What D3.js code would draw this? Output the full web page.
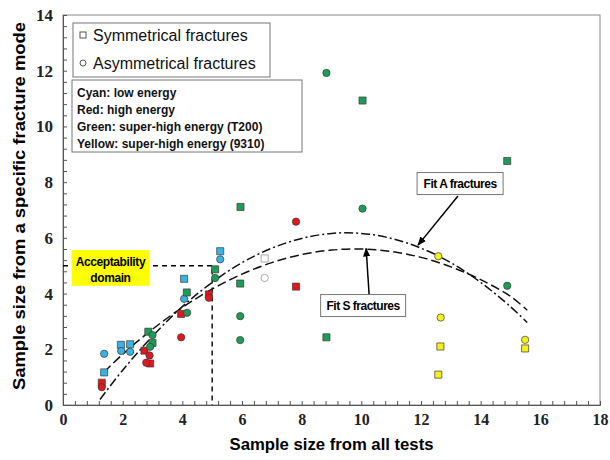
<!DOCTYPE html>
<html>
<head>
<meta charset="utf-8">
<script src="https://cdn.jsdelivr.net/npm/d3@7"></script>
<style>
  body { margin: 0; background: #fff; }
  svg { display: block; }
</style>
</head>
<body>
<script>
// [sample size from all tests, sample size from a fracture mode]
const cyanSym = [[1.38, 1.17], [1.94, 2.16], [2.25, 2.18], [4.06, 4.53], [5.27, 5.52]];
const cyanAsym = [[1.38, 1.84], [1.95, 1.94], [2.25, 1.91], [4.06, 3.81], [5.27, 5.23]];
const redSym = [[1.30, 0.80], [2.73, 1.95], [2.92, 1.49], [3.96, 3.27], [4.89, 3.97], [7.81, 4.25]];
const redAsym = [[1.30, 0.64], [2.90, 1.78], [2.79, 1.52], [3.96, 2.43], [4.89, 3.85], [7.81, 6.58]];
const greenSym = [[2.86, 2.63], [3.00, 2.23], [4.15, 4.04], [5.10, 4.87], [5.94, 4.36], [5.95, 7.11], [8.83, 2.43], [10.04, 10.93], [14.89, 8.76]];
const greenAsym = [[3.00, 2.51], [2.92, 2.09], [4.16, 3.31], [5.10, 4.56], [5.94, 3.19], [5.94, 2.33], [8.83, 11.92], [10.04, 7.05], [14.89, 4.28]];
const yellowSym = [[12.65, 2.10], [12.58, 1.09], [15.49, 2.03]];
const yellowAsym = [[12.58, 5.34], [12.66, 3.14], [15.49, 2.34]];
const whiteSym = [[6.76, 5.26]];
const whiteAsym = [[6.76, 4.56]];

// fit curves
const fitSX = [1.38, 2, 3, 4, 5, 6, 7, 8, 9, 10, 11, 12, 13, 14, 15, 15.56];
const fitSY = [1.18, 1.82, 2.72, 3.5, 4.16, 4.7, 5.11, 5.4, 5.56, 5.6, 5.51, 5.3, 4.96, 4.5, 3.9, 3.4];
const fitAX = [1.24, 2, 3, 4, 5, 6, 7, 8, 9, 10, 11, 12, 13, 14, 15, 15.56];
const fitAY = [0.2, 1.25, 2.47, 3.53, 4.4, 5.11, 5.63, 5.98, 6.16, 6.16, 5.98, 5.63, 5.11, 4.4, 3.53, 2.96];

const xTicks = [0, 2, 4, 6, 8, 10, 12, 14, 16, 18];
const yTicks = [0, 2, 4, 6, 8, 10, 12, 14];
const acceptLimit = 5;

const legendShapes = ["Symmetrical fractures", "Asymmetrical fractures"];
const legendColors = ["Cyan: low energy", "Red: high energy", "Green: super-high energy (T200)", "Yellow: super-high energy (9310)"];

const width = 610, height = 460;
const margin = { top: 15, right: 10, bottom: 55, left: 63 };

const svg = d3.select('body').append('svg')
  .attr('width', width)
  .attr('height', height);

svg.append('defs').append('marker')
  .attr('id', 'arrow')
  .attr('viewBox', '0 0 10 10')
  .attr('refX', 9).attr('refY', 5)
  .attr('markerWidth', 6).attr('markerHeight', 6)
  .attr('orient', 'auto')
  .append('path')
  .attr('d', 'M0,1 L10,5 L0,9 z')
  .attr('fill', '#000');

const x = d3.scaleLinear().domain([0, 18]).range([margin.left, width - margin.right]);
const y = d3.scaleLinear().domain([0, 14]).range([height - margin.bottom, margin.top]);

// frame
svg.append('rect')
  .attr('x', x(0)).attr('y', y(14))
  .attr('width', x(18) - x(0)).attr('height', y(0) - y(14))
  .attr('fill', 'none')
  .attr('stroke', '#888')
  .attr('stroke-width', 1);

// minor ticks (inside)
const minor = d3.range(0, 18.01, 0.4);
const minorY = d3.range(0, 14.01, 0.4);

svg.append('g')
  .attr('transform', `translate(0,${y(0)})`)
  .call(d3.axisBottom(x).tickValues(minor).tickSize(-4).tickFormat(''))
  .call(g => g.select('.domain').attr('stroke', '#555'))
  .selectAll('line').attr('stroke', '#555');

svg.append('g')
  .attr('transform', `translate(${x(0)},0)`)
  .call(d3.axisLeft(y).tickValues(minorY).tickSize(-4).tickFormat(''))
  .call(g => g.select('.domain').attr('stroke', '#555'))
  .selectAll('line').attr('stroke', '#555');

// major axes with labels
svg.append('g')
  .attr('transform', `translate(0,${y(0)})`)
  .call(d3.axisBottom(x).tickValues(xTicks).tickSize(0).tickPadding(9))
  .call(g => g.select('.domain').remove())
  .selectAll('text')
  .style('font-family', '"Liberation Serif", serif')
  .style('font-weight', 'bold')
  .style('font-size', '16px')
  .attr('fill', '#222');

svg.append('g')
  .attr('transform', `translate(${x(0)},0)`)
  .call(d3.axisLeft(y).tickValues(yTicks).tickSize(0).tickPadding(10))
  .call(g => g.select('.domain').remove())
  .selectAll('text')
  .style('font-family', '"Liberation Serif", serif')
  .style('font-weight', 'bold')
  .style('font-size', '17px')
  .attr('fill', '#222');

// axis titles
svg.append('text')
  .attr('x', (x(0) + x(18)) / 2)
  .attr('y', 450)
  .attr('text-anchor', 'middle')
  .attr('textLength', 204)
  .attr('lengthAdjust', 'spacingAndGlyphs')
  .style('font-family', '"Liberation Sans", Arial, sans-serif')
  .style('font-weight', 'bold')
  .style('font-size', '17px')
  .text('Sample size from all tests');

svg.append('text')
  .attr('transform', `translate(25,${(y(0) + y(14)) / 2 - 4}) rotate(-90)`)
  .attr('text-anchor', 'middle')
  .attr('textLength', 368)
  .attr('lengthAdjust', 'spacingAndGlyphs')
  .style('font-family', '"Liberation Sans", Arial, sans-serif')
  .style('font-weight', 'bold')
  .style('font-size', '17px')
  .text('Sample size from a specific fracture mode');

// acceptability domain lines
svg.append('path')
  .attr('d', `M${x(0)},${y(acceptLimit)} H${x(acceptLimit)} V${y(0)}`)
  .attr('fill', 'none')
  .attr('stroke', '#000')
  .attr('stroke-width', 1.4)
  .attr('stroke-dasharray', '5,4');

// fit curves
const line = d3.line().x(d => x(d[0])).y(d => y(d[1])).curve(d3.curveCatmullRom);
const fitS = fitSX.map((v, i) => [v, fitSY[i]]);
const fitA = fitAX.map((v, i) => [v, fitAY[i]]);

svg.append('path').datum(fitS)
  .attr('d', line)
  .attr('fill', 'none')
  .attr('stroke', '#111')
  .attr('stroke-width', 1.5)
  .attr('stroke-dasharray', '9,4');

svg.append('path').datum(fitA)
  .attr('d', line)
  .attr('fill', 'none')
  .attr('stroke', '#111')
  .attr('stroke-width', 1.5)
  .attr('stroke-dasharray', '9,3,2,3');

// points
const groups = [
  { data: cyanSym, color: '#39b3e6', shape: 'square' },
  { data: cyanAsym, color: '#39b3e6', shape: 'circle' },
  { data: redSym, color: '#e2161c', shape: 'square' },
  { data: redAsym, color: '#e2161c', shape: 'circle' },
  { data: greenSym, color: '#1e9c57', shape: 'square' },
  { data: greenAsym, color: '#1e9c57', shape: 'circle' },
  { data: yellowSym, color: '#f5f01d', shape: 'square' },
  { data: yellowAsym, color: '#f5f01d', shape: 'circle' },
  { data: whiteSym, color: '#fff', shape: 'square', stroke: '#888' },
  { data: whiteAsym, color: '#fff', shape: 'circle', stroke: '#888' }
];

groups.forEach(g => {
  const sym = d3.symbol()
    .type(g.shape === 'square' ? d3.symbolSquare : d3.symbolCircle)
    .size(g.shape === 'square' ? 50 : 42);
  svg.append('g').selectAll('path')
    .data(g.data)
    .join('path')
    .attr('transform', d => `translate(${x(d[0])},${y(d[1])})`)
    .attr('d', sym)
    .attr('fill', g.color)
    .attr('stroke', g.stroke || '#3a3a3a')
    .attr('stroke-width', 0.7);
});

// acceptability label
const accX0 = 0.29, accX1 = 2.89, accY0 = 5.56, accY1 = 4.28;
svg.append('rect')
  .attr('x', x(accX0)).attr('y', y(accY0))
  .attr('width', x(accX1) - x(accX0)).attr('height', y(accY1) - y(accY0))
  .attr('fill', '#ffff00');
svg.append('text')
  .attr('x', (x(accX0) + x(accX1)) / 2)
  .attr('y', y(accY0) + 16)
  .attr('text-anchor', 'middle')
  .style('font-family', '"Liberation Sans", Arial, sans-serif')
  .style('font-weight', 'bold')
  .style('font-size', '12px')
  .style('letter-spacing', '-0.4px')
  .selectAll('tspan')
  .data(['Acceptability', 'domain'])
  .join('tspan')
  .attr('x', (x(accX0) + x(accX1)) / 2)
  .attr('dy', (d, i) => i ? 16 : 0)
  .text(d => d);

// fit label boxes with arrows
function fitLabel(label, cx, cy, w, h, from, to) {
  svg.append('rect')
    .attr('x', x(cx) - w / 2).attr('y', y(cy) - h / 2)
    .attr('width', w).attr('height', h)
    .attr('fill', '#fff')
    .attr('stroke', '#777')
    .attr('stroke-width', 1);
  svg.append('text')
    .attr('x', x(cx)).attr('y', y(cy) + 4)
    .attr('text-anchor', 'middle')
    .style('font-family', '"Liberation Sans", Arial, sans-serif')
    .style('font-weight', 'bold')
    .style('font-size', '12px')
    .style('letter-spacing', '-0.5px')
    .text(label);
  svg.append('line')
    .attr('x1', x(from[0])).attr('y1', y(from[1]))
    .attr('x2', x(to[0])).attr('y2', y(to[1]))
    .attr('stroke', '#000')
    .attr('stroke-width', 1.5)
    .attr('marker-end', 'url(#arrow)');
}
fitLabel('Fit A fractures', 13.31, 7.95, 86, 22, [13.24, 7.5], [11.9, 5.74]);
fitLabel('Fit S fractures', 10.06, 3.57, 85, 22, [10.26, 3.98], [10.16, 5.62]);

// legend: shapes
const leg1 = svg.append('g');
leg1.append('rect')
  .attr('x', 73).attr('y', 23).attr('width', 197).attr('height', 54)
  .attr('fill', '#fff').attr('stroke', '#777');
leg1.append('rect')
  .attr('x', 80).attr('y', 32).attr('width', 6).attr('height', 6)
  .attr('fill', '#fff').attr('stroke', '#555');
leg1.append('circle')
  .attr('cx', 83).attr('cy', 63).attr('r', 3)
  .attr('fill', '#fff').attr('stroke', '#555');
leg1.selectAll('text')
  .data(legendShapes)
  .join('text')
  .attr('x', 93)
  .attr('y', (d, i) => 41 + i * 28)
  .style('font-family', '"Liberation Sans", Arial, sans-serif')
  .style('font-size', '16px')
  .attr('fill', '#111')
  .text(d => d);

// legend: colours
const leg2 = svg.append('g');
leg2.append('rect')
  .attr('x', 72).attr('y', 80).attr('width', 230).attr('height', 72)
  .attr('fill', '#fff').attr('stroke', '#777');
leg2.selectAll('text')
  .data(legendColors)
  .join('text')
  .attr('x', 77)
  .attr('y', (d, i) => 97 + i * 17)
  .style('font-family', '"Liberation Sans", Arial, sans-serif')
  .style('font-weight', 'bold')
  .style('font-size', '12px')
  .attr('fill', '#111')
  .text(d => d);
</script>
</body>
</html>
